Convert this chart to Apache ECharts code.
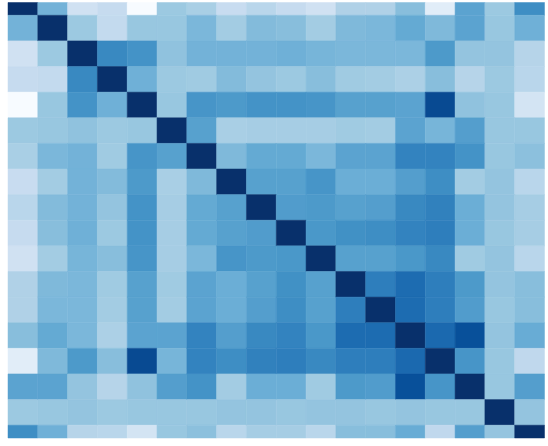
<!DOCTYPE html>
<html>
<head>
<meta charset="utf-8">
<script src="https://cdn.jsdelivr.net/npm/echarts@6/dist/echarts.min.js"></script>
<style>html,body{margin:0;padding:0;background:#fff;}#chart{width:548px;height:446px;}</style>
</head>
<body>
<div id="chart"></div>
<script>
// Variables (rows / columns of the correlation-style matrix)
const variables = ['V1','V2','V3','V4','V5','V6','V7','V8','V9','V10','V11','V12','V13','V14','V15','V16','V17','V18'];

// Upper-triangle values for each row (from the diagonal onward, diagonal = 1)
const upper0  = [1, .48, .20, .25, .00, .38, .34, .24, .29, .25, .20, .32, .32, .43, .11, .55, .38, .64];
const upper1  = [1, .38, .26, .39, .39, .46, .36, .44, .43, .36, .45, .46, .52, .45, .55, .39, .49];
const upper2  = [1, .66, .62, .41, .48, .48, .48, .49, .47, .46, .46, .46, .59, .40, .40, .30];
const upper3  = [1, .49, .38, .37, .44, .40, .38, .43, .37, .36, .33, .43, .30, .38, .29];
const upper4  = [1, .39, .61, .59, .62, .62, .61, .56, .56, .55, .90, .41, .39, .18];
const upper5  = [1, .56, .34, .35, .35, .35, .37, .36, .55, .47, .57, .39, .39];
const upper6  = [1, .45, .52, .52, .46, .55, .55, .68, .68, .62, .39, .42];
const upper7  = [1, .56, .56, .61, .50, .50, .57, .64, .36, .40, .29];
const upper8  = [1, .58, .59, .56, .57, .66, .69, .50, .40, .35];
const upper9  = [1, .60, .63, .64, .68, .70, .50, .39, .35];
const upper10 = [1, .56, .56, .60, .66, .37, .40, .29];
const upper11 = [1, .70, .77, .70, .59, .40, .43];
const upper12 = [1, .77, .70, .58, .39, .43];
const upper13 = [1, .78, .88, .40, .51];
const upper14 = [1, .61, .39, .27];
const upper15 = [1, .39, .57];
const upper16 = [1, .40];
const upper17 = [1];

const upperRows = [upper0, upper1, upper2, upper3, upper4, upper5, upper6, upper7, upper8,
  upper9, upper10, upper11, upper12, upper13, upper14, upper15, upper16, upper17];

// Blues colour ramp
const blues = ['#f7fbff','#deebf7','#c6dbef','#9ecae1','#6baed6','#4292c6','#2171b5','#08519c','#08306b'];

const n = variables.length;
const data = [];
for (let i = 0; i < n; i++) {
  for (let k = 0; k < upperRows[i].length; k++) {
    const j = i + k;
    const v = upperRows[i][k];
    data.push([j, i, v]);
    if (j !== i) data.push([i, j, v]);
  }
}

const chart = echarts.init(document.getElementById('chart'), null, {renderer: 'canvas'});
chart.setOption({
  animation: false,
  backgroundColor: '#ffffff',
  grid: {left: 8, right: 3.5, top: 2.5, bottom: 8, containLabel: false},
  xAxis: {type: 'value', min: -0.5, max: n - 0.5, show: false, splitLine: {show: false}},
  yAxis: {type: 'value', min: 0, max: n - 1, inverse: true, show: false, splitLine: {show: false}},
  visualMap: {show: false, type: 'continuous', min: 0, max: 1, dimension: 2, inRange: {color: blues}},
  series: [{
    type: 'custom',
    data: data,
    encode: {x: 0, y: 1},
    renderItem: function (params, api) {
      const x = api.value(0), y = api.value(1);
      const p0 = api.coord([x - 0.5, y - 0.5]);
      const p1 = api.coord([x + 0.5, y + 0.5]);
      const rect = echarts.graphic.clipRectByRect({
        x: Math.min(p0[0], p1[0]), y: Math.min(p0[1], p1[1]),
        width: Math.abs(p1[0] - p0[0]), height: Math.abs(p1[1] - p0[1])
      }, {
        x: params.coordSys.x, y: params.coordSys.y,
        width: params.coordSys.width, height: params.coordSys.height
      });
      if (!rect) return;
      const c = api.visual('color');
      return {type: 'rect', shape: rect, style: {fill: c, stroke: c, lineWidth: 0.5}};
    }
  }]
});
</script>
</body>
</html>
